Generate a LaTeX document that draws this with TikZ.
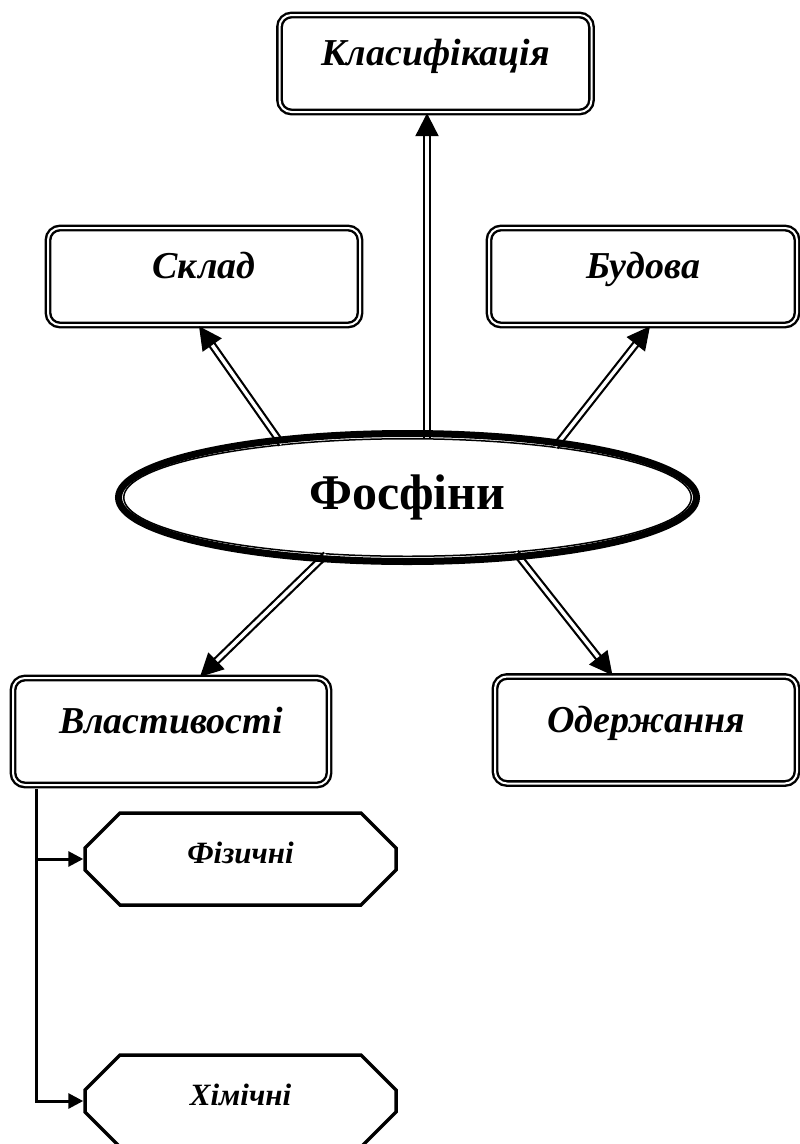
\documentclass[tikz,border=0pt]{standalone}
\usepackage{fontspec}
\setmainfont{Liberation Serif}
\usetikzlibrary{arrows.meta,shapes.geometric,shapes.misc}

\tikzset{
  topic/.style = {draw, double, double distance=2pt, line width=2.4pt,
    rounded corners=12pt, minimum width=312pt, minimum height=97pt,
    text height=26pt, text depth=22pt,
    font=\fontsize{38}{42}\selectfont\bfseries\itshape},
  hub/.style = {draw, ellipse, line width=1.5pt, inner sep=0pt,
    minimum width=567.5pt, minimum height=117.5pt,
    font=\fontsize{50}{56}\selectfont\bfseries},
  kind/.style = {draw, chamfered rectangle, chamfered rectangle xsep=17pt,
    chamfered rectangle ysep=18pt, line width=3.5pt, inner sep=0pt,
    minimum width=311pt, minimum height=92pt,
    text height=22pt, text depth=14pt,
    font=\fontsize{31}{34}\selectfont\bfseries\itshape},
  link/.style = {double, double distance=3.5pt, line width=2.2pt,
    -{Triangle[length=23pt,width=23pt]}},
  branch/.style = {line width=3pt, -{Triangle[length=15pt,width=15pt]}}
}

\begin{document}
\begin{tikzpicture}[x=1pt, y=-1pt]
  \useasboundingbox (0,0) rectangle (800,1144);

  % centre and the five topics round it
  \node[hub] (fos) at (407.5,497.5) {Фосфіни};
  \node[topic] (klas) at (435.5,63.5) {Класифікація};
  \node[topic] (sklad) at (204,276.5) {Склад};
  \node[topic, minimum width=308pt] (budova) at (643,276.5) {Будова};
  \node[topic, minimum width=316pt, minimum height=107pt] (vlast) at (171,731.5) {Властивості};
  \node[topic, minimum width=302pt, minimum height=107pt] (oderzh) at (646,730) {Одержання};

  % kinds of properties
  \node[kind] (fiz) at (240.5,859) {Фізичні};
  \node[kind] (him) at (240.5,1101) {Хімічні};

  \draw[link] ([xshift=-8.5pt]klas.south |- fos.north) -- ([xshift=-8.5pt]klas.south);
  \draw[link] (fos.157.5) -- ([xshift=-5pt]sklad.south);
  \draw[link] (fos.19) -- ([xshift=7pt]budova.south);
  \draw[link] (fos.215.5) -- ([xshift=29pt]vlast.north);
  \draw[link] (fos.-27.1) -- ([xshift=-33.5pt]oderzh.north);

  % heavy outer rim of the centre
  \draw[line width=7pt] (fos.center) ellipse [x radius=289pt, y radius=64pt];

  \coordinate (trunk) at ([xshift=25pt,yshift=-3pt]vlast.south west);
  \draw[branch] (trunk) |- (fiz.west);
  \draw[branch] (trunk) |- (him.west);
\end{tikzpicture}
\end{document}
